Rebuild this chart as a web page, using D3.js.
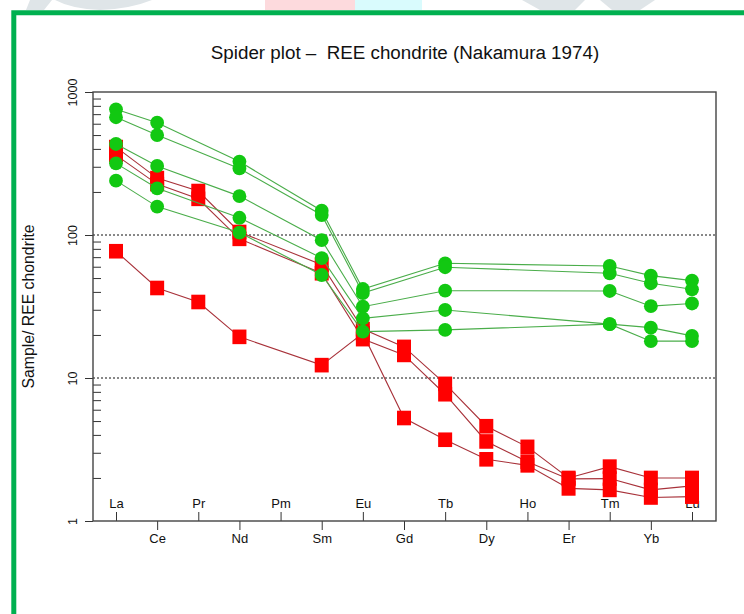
<!DOCTYPE html>
<html><head><meta charset="utf-8">
<script src="https://cdn.jsdelivr.net/npm/d3@7"></script>
<style>body{margin:0;background:#fff} svg{display:block} text{font-family:"Liberation Sans",Arial,sans-serif;fill:#111}</style>
</head><body><svg id="c" width="744" height="614"></svg>
<script>
// ---- data ----
const elements = ["La","Ce","Pr","Nd","Pm","Sm","Eu","Gd","Tb","Dy","Ho","Er","Tm","Yb","Lu"];
const yTickValues = [1, 10, 100, 1000];
const yMinorValues = [2,3,4,5,6,7,8,9,20,30,40,50,60,70,80,90,200,300,400,500,600,700,800,900];
// red samples (squares)
const red1 = [412, 250, 203, 105, null, 62, 22, 16.5, 9.1, 4.6, 3.3, 2.0, 2.4, 2.0, 2.0];
const red2 = [362, 227, 179, 94, null, 54, 18.7, 14.5, 7.7, 3.6, 2.6, 1.97, 1.98, 1.65, 1.76];
const red3 = [77, 42.6, 34, 19.4, null, 12.3, 20.5, 5.25, 3.7, 2.7, 2.45, 1.69, 1.65, 1.46, 1.48];
// green samples (circles)
const green1 = [757, 610, null, 326, null, 148, 41.9, null, 63.4, null, null, null, 60.7, 52, 48];
const green2 = [666, 500, null, 292, null, 138, 39.3, null, 59.5, null, null, null, 54, 46, 41.7];
const green3 = [433, 304, null, 187, null, 92, 31.5, null, 40.8, null, null, null, 40.6, 31.8, 33.2];
const green4 = [317, 212, null, 132, null, 69, 26.1, null, 29.9, null, null, null, 23.8, 22.5, 19.7];
const green5 = [240, 158, null, 104, null, 52.5, 21.1, null, 21.7, null, null, null, 23.8, 18.1, 18.1];
const titleText = "Spider plot \u2013  REE chondrite (Nakamura 1974)";
const yLabelText = "Sample/ REE chondrite";

// ---- layout ----
const svg = d3.select("#c");
const L = 93, R = 716, T = 92, B = 521;

// watermark remnants at top
const wm = svg.append("g");
wm.append("path").attr("d","M30,0 L52,0 L44,10 L26,10 Z").attr("fill","#dfe5e8");
wm.append("path").attr("d","M55,0 L152,0 Q130,9 100,10 Q72,9 55,0 Z").attr("fill","#dfe5e8");
wm.append("rect").attr("x",265).attr("y",0).attr("width",90).attr("height",10).attr("fill","#fddadd");
wm.append("rect").attr("x",355).attr("y",0).attr("width",67).attr("height",10).attr("fill","#d9fbfd");
wm.append("path").attr("d","M522,0 L585,0 L575,10 L540,10 Z").attr("fill","#dfe5e8");
wm.append("path").attr("d","M600,0 L655,0 L640,10 L612,10 Z").attr("fill","#dfe5e8");

// green frame
svg.append("path").attr("d","M13.8,640 L13.8,12.8 L760,12.8")
  .attr("fill","none").attr("stroke","#00b050").attr("stroke-width",5);

const x = d3.scalePoint().domain(elements).range([116, 692]);
const y = d3.scaleLog().domain([1, 1000]).range([B, T]);

// dotted gridlines
svg.append("g").selectAll("line").data([10, 100]).join("line")
  .attr("x1", L).attr("x2", R).attr("y1", d => y(d)).attr("y2", d => y(d))
  .attr("stroke","#111").attr("stroke-width",1).attr("stroke-dasharray","2,2");

// y axis
const ya = svg.append("g").attr("transform",`translate(${L},0)`)
  .call(d3.axisLeft(y).tickValues(yTickValues).tickSize(8).tickFormat(d3.format("d")));
ya.select(".domain").remove();
ya.selectAll("line").attr("stroke","#333");
ya.selectAll("text").attr("x",0).attr("dy",null).attr("text-anchor","middle")
  .attr("transform","translate(-16,0) rotate(-90)").style("font-size","12.5px").attr("fill","#111");
const ym = svg.append("g").attr("transform",`translate(${L},0)`)
  .call(d3.axisRight(y).tickValues(yMinorValues).tickSize(8).tickFormat(""));
ym.select(".domain").remove();
ym.selectAll("line").attr("stroke","#333");

// x axes
const evenEl = elements.filter((d,i) => i % 2 === 1);
const oddEl = elements.filter((d,i) => i % 2 === 0);
const xb = svg.append("g").attr("transform",`translate(0,${B})`)
  .call(d3.axisBottom(x).tickValues(evenEl).tickSize(9).tickPadding(4));
const xt = svg.append("g").attr("transform",`translate(0,${B})`)
  .call(d3.axisTop(x).tickValues(oddEl).tickSize(9).tickPadding(4));
[xb, xt].forEach(g => {
  g.select(".domain").remove();
  g.selectAll("line").attr("stroke","#333");
  g.selectAll("text").style("font-size","13px").attr("fill","#111");
});

// box
svg.append("rect").attr("x",L).attr("y",T).attr("width",R-L).attr("height",B-T)
  .attr("fill","none").attr("stroke","#444").attr("stroke-width",1.4);

// series
const line = d3.line().defined(d => d.v != null).x(d => x(d.k)).y(d => y(d.v));
function pts(arr){ return arr.map((v,i) => ({k: elements[i], v})).filter(d => d.v != null); }

const reds = [red1, red2, red3];
const greens = [green1, green2, green3, green4, green5];

const gRed = svg.append("g");
reds.forEach(s => {
  gRed.append("path").attr("d", line(pts(s))).attr("fill","none")
    .attr("stroke","#a8323a").attr("stroke-width",1.1);
});
reds.forEach(s => {
  gRed.append("g").selectAll("rect").data(pts(s)).join("rect")
    .attr("x", d => x(d.k) - 7).attr("y", d => y(d.v) - 7.3)
    .attr("width",14).attr("height",14.6).attr("fill","#ff0000");
});
const gGreen = svg.append("g");
greens.forEach(s => {
  gGreen.append("path").attr("d", line(pts(s))).attr("fill","none")
    .attr("stroke","#4aad4a").attr("stroke-width",1.1);
});
greens.forEach(s => {
  gGreen.append("g").selectAll("circle").data(pts(s)).join("circle")
    .attr("cx", d => x(d.k)).attr("cy", d => y(d.v)).attr("r",6.9).attr("fill","#12c812");
});

// title & y label
svg.append("text").attr("x",405).attr("y",59).attr("text-anchor","middle")
  .style("font-size","18.8px").style("white-space","pre").text(titleText);
svg.append("text").attr("transform",`translate(34,${(T+B)/2}) rotate(-90)`).attr("text-anchor","middle")
  .style("font-size","15.8px").text(yLabelText);
</script></body></html>
